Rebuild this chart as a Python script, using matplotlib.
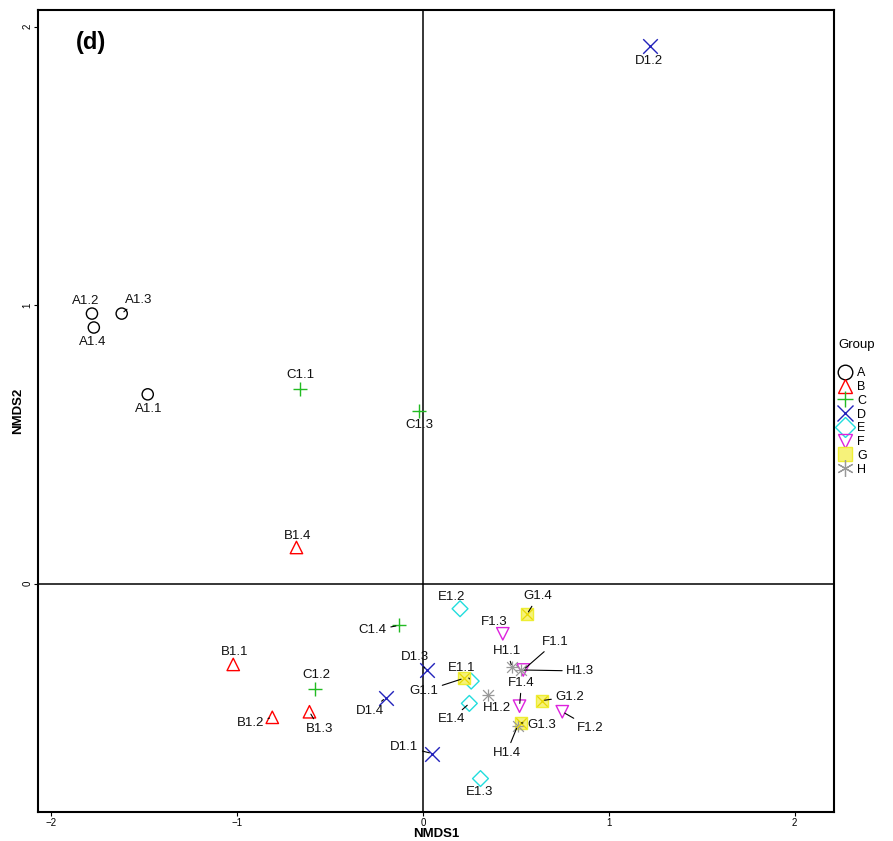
import numpy as np
import matplotlib
matplotlib.use("Agg")
import matplotlib.pyplot as plt
from matplotlib.lines import Line2D

plt.rcParams['font.family'] = ['Liberation Sans Narrow', 'Liberation Sans', 'DejaVu Sans']

# NMDS scores per sample
samples = ["A1.1", "A1.2", "A1.3", "A1.4",
           "B1.1", "B1.2", "B1.3", "B1.4",
           "C1.1", "C1.2", "C1.3", "C1.4",
           "D1.1", "D1.2", "D1.3", "D1.4",
           "E1.1", "E1.2", "E1.3", "E1.4",
           "F1.1", "F1.2", "F1.3", "F1.4",
           "G1.1", "G1.2", "G1.3", "G1.4",
           "H1.1", "H1.2", "H1.3", "H1.4"]
nmds1 = [-1.48, -1.78, -1.62, -1.77,
         -1.02, -0.81, -0.61, -0.68,
         -0.66, -0.58, -0.02, -0.13,
         0.05, 1.22, 0.02, -0.20,
         0.26, 0.20, 0.31, 0.25,
         0.54, 0.75, 0.43, 0.52,
         0.22, 0.64, 0.53, 0.56,
         0.48, 0.35, 0.53, 0.51]
nmds2 = [0.68, 0.97, 0.97, 0.92,
         -0.29, -0.48, -0.46, 0.13,
         0.70, -0.38, 0.62, -0.15,
         -0.61, 1.93, -0.31, -0.41,
         -0.35, -0.09, -0.70, -0.43,
         -0.31, -0.46, -0.18, -0.44,
         -0.34, -0.42, -0.50, -0.11,
         -0.30, -0.40, -0.31, -0.51]
groups = ["A", "B", "C", "D", "E", "F", "G", "H"]

# R-style symbol/colour per group
styles = {
    "A": dict(marker="o", color="black"),
    "B": dict(marker="^", color="red"),
    "C": dict(marker="+", color="#22bb22"),
    "D": dict(marker="x", color="#2222bb"),
    "E": dict(marker="D", color="#22dddd"),
    "F": dict(marker="v", color="#dd22dd"),
    "G": dict(marker="s", color="#eeee33"),
    "H": dict(marker="*", color="#999999"),
}

# label offsets from each point, in pixels (dx, dy)
label_off = {
    "A1.1": (1, -15), "A1.2": (-6, 13), "A1.3": (17, 14), "A1.4": (-1, -14),
    "B1.1": (1, 12), "B1.2": (-22, -6), "B1.3": (10, -17), "B1.4": (1, 11),
    "C1.1": (0, 14), "C1.2": (1, 14), "C1.3": (0, -14), "C1.4": (-26, -5),
    "D1.1": (-28, 7), "D1.2": (-1, -15), "D1.3": (-12, 13), "D1.4": (-16, -13),
    "E1.1": (-10, 13), "E1.2": (-8, 12), "E1.3": (-1, -13), "E1.4": (-18, -16),
    "F1.1": (32, 28), "F1.2": (28, -16), "F1.3": (-9, 12), "F1.4": (2, 23),
    "G1.1": (-40, -13), "G1.2": (28, 4), "G1.3": (20, -2), "G1.4": (11, 18),
    "H1.1": (-5, 16), "H1.2": (9, -13), "H1.3": (59, -1), "H1.4": (-11, -27),
}

fig = plt.figure(figsize=(8.93, 8.41), dpi=100)
ax = fig.add_axes([0.0426, 0.0345, 0.891, 0.9535])

ax.axhline(0, color="black", lw=1.1, zorder=1)
ax.axvline(0, color="black", lw=1.1, zorder=1)

x = np.array(nmds1)
y = np.array(nmds2)
grp = np.array([s[0] for s in samples])

for g in groups:
    m = grp == g
    st = styles[g]
    if g == "G":
        ax.scatter(x[m], y[m], marker="s", s=70, facecolor="#f6f27a",
                   edgecolor=st["color"], lw=1.0, zorder=3)
        ax.scatter(x[m], y[m], marker="x", s=55, color="#e8d800", lw=0.9, zorder=4)
    elif g == "H":
        ax.scatter(x[m], y[m], marker="+", s=80, color=st["color"], lw=0.9, zorder=3)
        ax.scatter(x[m], y[m], marker="x", s=60, color=st["color"], lw=0.9, zorder=3)
    elif st["marker"] in ("+", "x"):
        ax.scatter(x[m], y[m], marker=st["marker"], s=110, color=st["color"],
                   lw=1.0, zorder=3)
    else:
        size = 80 if st["marker"] in ("^", "v") else 65
        ax.scatter(x[m], y[m], marker=st["marker"], s=size, facecolor="none",
                   edgecolor=st["color"], lw=1.0, zorder=3)

for name, xi, yi in zip(samples, x, y):
    dx, dy = label_off[name]
    far = np.hypot(dx, dy) > 16
    ax.annotate(name, (xi, yi), xytext=(dx, dy), textcoords="offset pixels",
                ha="center", va="center", fontsize=9.5, color="#111111", zorder=5,
                arrowprops=dict(arrowstyle="-", color="black", lw=0.8,
                                shrinkA=1, shrinkB=2) if far else None)

ax.set_xlim(-2.07, 2.21)
ax.set_ylim(-0.82, 2.06)
ax.set_xticks([-2, -1, 0, 1, 2])
ax.set_yticks([0, 1, 2])
ax.tick_params(length=3, width=0.8, labelsize=7, pad=1)
for lab in ax.get_yticklabels():
    lab.set_rotation(90)
    lab.set_va("center")
for sp in ax.spines.values():
    sp.set_linewidth(1.5)

ax.set_xlabel("NMDS1", fontsize=9.5, fontweight="bold")
ax.set_ylabel("NMDS2", fontsize=9.5, fontweight="bold")
ax.xaxis.set_label_coords(0.5, -0.0205)
ax.yaxis.set_label_coords(-0.017, 0.5)

ax.text(0.048, 0.952, "(d)", transform=ax.transAxes, fontsize=17,
        fontweight="bold", family=["Liberation Sans", "DejaVu Sans"])

handles = []
for g in groups:
    st = styles[g]
    if g == "G":
        h = Line2D([], [], ls="none", marker="s", markersize=10,
                   markerfacecolor="#f6f27a", markeredgecolor=st["color"])
    elif g == "H":
        h = Line2D([], [], ls="none", marker=(6, 2, 0), markersize=12,
                   color=st["color"], markeredgewidth=0.9)
    elif st["marker"] in ("+", "x"):
        h = Line2D([], [], ls="none", marker=st["marker"], markersize=12,
                   color=st["color"], markeredgewidth=1.0)
    else:
        h = Line2D([], [], ls="none", marker=st["marker"], markersize=10.5,
                   markerfacecolor="none", markeredgecolor=st["color"])
    handles.append(h)

leg = ax.legend(handles, groups, title="Group", loc="upper left",
                bbox_to_anchor=(0.998, 0.598), frameon=False, fontsize=9,
                title_fontsize=9.5, labelspacing=0.14, handlelength=1.0,
                handletextpad=0.5, borderaxespad=0.3, borderpad=0.2)
leg._legend_box.align = "left"
leg._legend_box.sep = 12

fig.savefig("out.png", dpi=100)
